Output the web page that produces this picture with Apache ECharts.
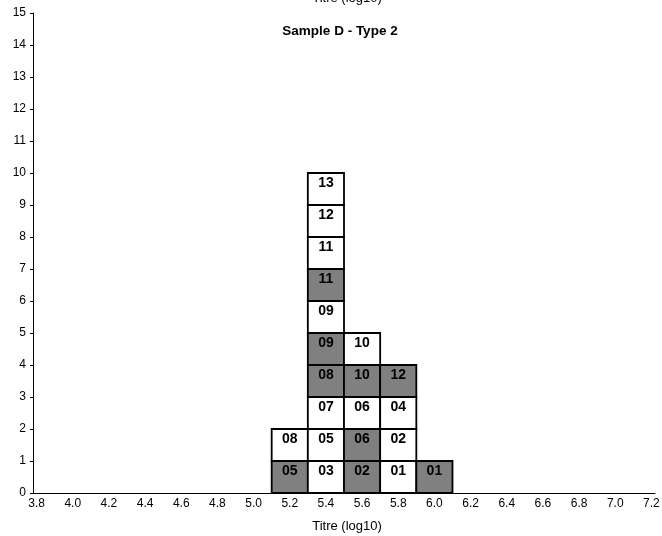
<!DOCTYPE html>
<html>
<head>
<meta charset="utf-8">
<script src="https://cdn.jsdelivr.net/npm/echarts@6/dist/echarts.min.js"></script>
<style>
html,body{margin:0;padding:0;background:#fff;}
#chart{width:662px;height:536px;}
</style>
</head>
<body>
<div id="chart"></div>
<script>
// Data
const chartTitle = "Sample D - Type 2";
const axisName = "Titre (log10)";
const titres = [5.2, 5.4, 5.6, 5.8, 6.0];
const cellLabels = [
  ["05", "08"],
  ["03", "05", "07", "08", "09", "09", "11", "11", "12", "13"],
  ["02", "06", "06", "10", "10"],
  ["01", "02", "04", "12"],
  ["01"]
];
const cellShaded = [
  [1, 0],
  [0, 0, 0, 1, 1, 0, 1, 0, 0, 0],
  [1, 1, 0, 1, 0],
  [0, 0, 0, 1],
  [1]
];
// axis line extends slightly past first/last labelled tick (3.8 .. 7.2 every 0.2)
const xMin = 3.78, xMax = 7.22, xMinorStep = 0.02, xLabelStep = 0.2, binWidth = 0.2;
const yMin = 0, yMax = 15, yStep = 1;

const cells = [];
titres.forEach((t, i) => {
  cellLabels[i].forEach((lab, lvl) => {
    cells.push([t, lvl, lab, cellShaded[i][lvl]]);
  });
});

const FONT = '"Liberation Sans", Arial, sans-serif';
const chart = echarts.init(document.getElementById('chart'), null, {renderer: 'canvas'});
chart.setOption({
  animation: false,
  backgroundColor: '#ffffff',
  graphic: [
    {
      type: 'text', x: 340, y: 31,
      style: {text: chartTitle, font: 'bold 13.5px ' + FONT, fill: '#000', align: 'center', verticalAlign: 'middle'}
    },
    {
      type: 'text', x: 347, y: -2,
      style: {text: axisName, font: '13px ' + FONT, fill: '#000', align: 'center', verticalAlign: 'middle'}
    }
  ],
  grid: {left: 33, right: 7, top: 13, bottom: 43, containLabel: false, outerBoundsMode: 'none'},
  xAxis: {
    type: 'value', min: xMin, max: xMax, interval: xMinorStep,
    name: axisName, nameLocation: 'middle', nameGap: 27,
    nameTextStyle: {fontFamily: FONT, fontSize: 13, color: '#000', padding: [0, 0, 0, 6]},
    axisLine: {show: true, lineStyle: {color: '#000', width: 1}},
    axisTick: {show: false},
    splitLine: {show: false},
    axisLabel: {
      fontFamily: FONT, fontSize: 12, color: '#000', margin: 5,
      showMinLabel: true, showMaxLabel: true,
      formatter: function (v) {
        const k = (v - 3.8) / xLabelStep;
        return Math.abs(k - Math.round(k)) < 1e-6 && v > 3.79 && v < 7.21 ? Number(v).toFixed(1) : '';
      }
    }
  },
  yAxis: {
    type: 'value', min: yMin, max: yMax, interval: yStep,
    axisLine: {show: true, lineStyle: {color: '#000', width: 1}},
    axisTick: {show: true, length: 3, lineStyle: {color: '#000'}},
    splitLine: {show: false},
    axisLabel: {fontFamily: FONT, fontSize: 12, color: '#000', margin: 7}
  },
  series: [{
    type: 'custom',
    data: cells,
    renderItem: function (params, api) {
      const x = api.value(0), lvl = api.value(1);
      const d = cells[params.dataIndex];
      const p0 = api.coord([x - binWidth / 2, lvl + 1]);
      const p1 = api.coord([x + binWidth / 2, lvl]);
      return {
        type: 'rect',
        shape: {x: p0[0], y: p0[1], width: p1[0] - p0[0], height: p1[1] - p0[1]},
        style: {fill: d[3] ? '#808080' : '#ffffff', stroke: '#000', lineWidth: 1.8},
        textContent: {
          style: {text: d[2], font: 'bold 14px ' + FONT, fill: '#000'}
        },
        textConfig: {position: 'insideTop', distance: 4}
      };
    }
  }]
});
</script>
</body>
</html>
